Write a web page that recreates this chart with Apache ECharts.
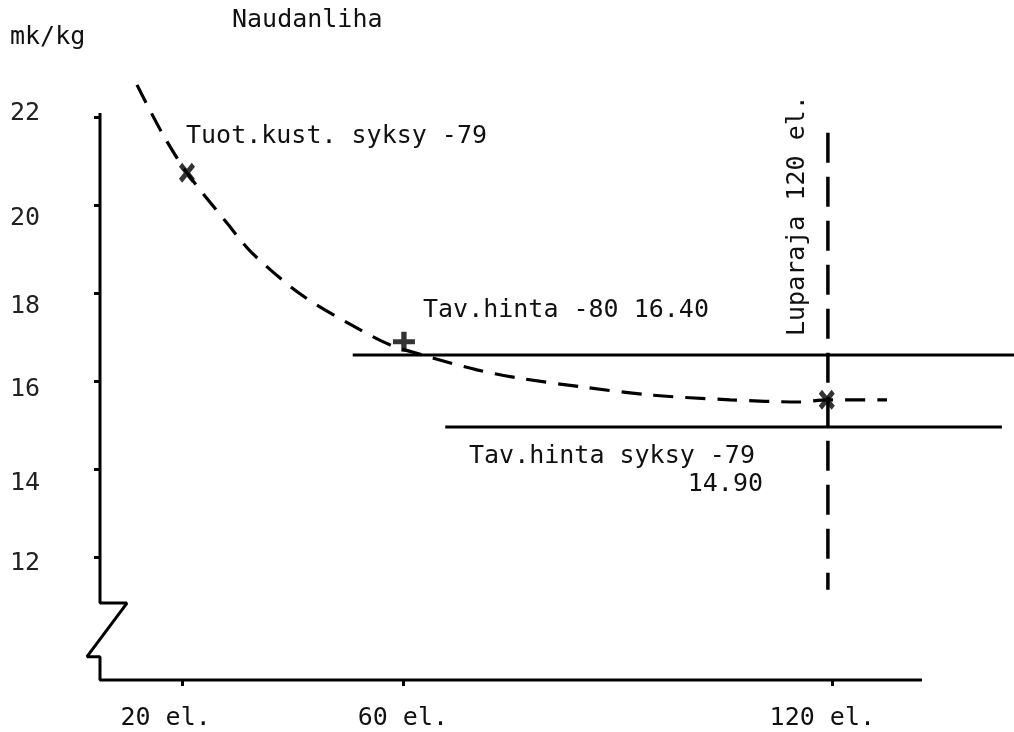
<!DOCTYPE html>
<html>
<head>
<meta charset="utf-8">
<script src="https://cdn.jsdelivr.net/npm/echarts@6/dist/echarts.min.js"></script>
<style>
  html, body { margin: 0; padding: 0; background: #fff; }
  #chart { width: 1014px; height: 732px; }
</style>
</head>
<body>
<div id="chart"></div>
<script>
// kuvan lukuarvot
var xTicks = [20, 60, 138];                 // paikat vaaka-akselilla
var xTickLabels = ['20 el.', '60 el.', '120 el.'];
var yTicks = [12, 14, 16, 18, 20, 22];

// tuotantokustannuskäyrä (x, mk/kg)
var costX = [11.72, 16.26, 20.8, 28.06, 32.6, 41.32, 50.4, 57.66, 64.93, 73.46, 80.73, 92.72, 104.88, 119.42, 132.14, 137.04, 147.94];
var costY = [22.73, 21.64, 20.73, 19.59, 18.91, 17.98, 17.29, 16.82, 16.54, 16.25, 16.07, 15.86, 15.68, 15.57, 15.52, 15.57, 15.57];

// merkit käyrällä
var crossX = [20.8, 137.0];
var crossY = [20.73, 15.57];
var plusX = [60.2];
var plusY = [16.89];

// hintatasot
var price80 = 16.59;    var price80X = [50.9, 171];
var price79 = 14.95;    var price79X = [67.7, 168.8];

// luparaja 120 el.
var limitX = 137.2;     var limitY = [21.64, 11.25];

// akselit katkoineen
var axisX = [5, 5, 9.9, 2.64, 5, 5, 154.3];
var axisY = [22.09, 10.95, 10.95, 9.73, 9.73, 9.2, 9.2];

function pairs(xs, ys) {
	var out = [];
	for (var i = 0; i < xs.length; i++) out.push([xs[i], ys[i]]);
	return out;
}

var FONT = '"DejaVu Sans Mono", monospace';
var myChart = echarts.init(document.getElementById('chart'));

// y-lukujen pieni pystysiirto kuten alkuperäisessä
var yLabelStyle = function (padTop, padBottom) {
	return { fontFamily: FONT, fontSize: 25, color: '#222', padding: [padTop, 0, padBottom, 0] };
};

var option = {
	animation: false,
	backgroundColor: '#fff',
	grid: { left: 80, right: 0, top: 73, bottom: 52 },
	xAxis: {
		type: 'value',
		min: 1.368,
		max: 171,
		axisLine: { show: false },
		splitLine: { show: false },
		axisTick: {
			show: true,
			customValues: xTicks,
			length: 6,
			lineStyle: { color: '#000', width: 3 }
		},
		axisLabel: {
			customValues: xTicks,
			margin: 26,
			formatter: function (v) {
				var i = xTicks.indexOf(v);
				var s = i >= 0 ? xTickLabels[i] : '';
				if (i === 0) return '{a|' + s + '}';
				if (i === 2) return '{c|' + s + '}';
				return s;
			},
			color: '#111',
			fontFamily: FONT,
			fontSize: 25,
			rich: {
				a: { fontFamily: FONT, fontSize: 25, color: '#111', padding: [0, 34, 0, 0] },
				c: { fontFamily: FONT, fontSize: 25, color: '#111', padding: [0, 20, 0, 0] }
			}
		}
	},
	yAxis: {
		type: 'value',
		min: 9.2,
		max: 23,
		offset: -20,
		axisLine: { show: false },
		splitLine: { show: false },
		axisTick: {
			show: true,
			customValues: yTicks,
			length: 6,
			lineStyle: { color: '#000', width: 3 }
		},
		axisLabel: {
			customValues: yTicks,
			margin: 60,
			color: '#222',
			fontFamily: FONT,
			fontSize: 25,
			formatter: function (v) {
				return '{y' + v + '|' + v + '}';
			},
			rich: {
				y22: yLabelStyle(0, 6),
				y20: yLabelStyle(28, 0),
				y18: yLabelStyle(28, 0),
				y16: yLabelStyle(18, 0),
				y14: yLabelStyle(30, 0),
				y12: yLabelStyle(14, 0)
			}
		}
	},
	series: [
		{
			// akselit
			type: 'line',
			data: pairs(axisX, axisY),
			symbol: 'none',
			clip: false,
			lineStyle: { color: '#000', width: 3 },
			z: 3
		},
		{
			name: 'Tuot.kust.',
			type: 'line',
			data: pairs(costX, costY),
			smooth: 0.3,
			symbol: 'none',
			clip: false,
			lineStyle: { color: '#000', width: 3.2, type: [20, 12] }
		},
		{
			name: 'Tav.hinta -80',
			type: 'line',
			data: [[price80X[0], price80], [price80X[1], price80]],
			symbol: 'none',
			lineStyle: { color: '#000', width: 3 }
		},
		{
			name: 'Tav.hinta syksy -79',
			type: 'line',
			data: [[price79X[0], price79], [price79X[1], price79]],
			symbol: 'none',
			lineStyle: { color: '#000', width: 3 }
		},
		{
			name: 'Luparaja',
			type: 'line',
			data: [[limitX, limitY[0]], [limitX, limitY[1]]],
			symbol: 'none',
			lineStyle: { color: '#000', width: 3.5, type: [30, 14] }
		},
		{
			type: 'scatter',
			data: pairs(crossX, crossY),
			symbol: 'path://M0,2 L2,0 L10,8 L8,10 Z M8,0 L10,2 L2,10 L0,8 Z',
			symbolSize: [16, 20],
			itemStyle: { color: '#000' },
			z: 4
		},
		{
			type: 'scatter',
			data: pairs(plusX, plusY),
			symbol: 'path://M3.8,0 H6.2 V10 H3.8 Z M0,3.8 H10 V6.2 H0 Z',
			symbolSize: [22, 20],
			itemStyle: { color: '#000' },
			z: 4
		}
	],
	graphic: [
		{ type: 'text', x: 10, y: 37, style: { text: 'mk/kg', font: '25px ' + FONT, fill: '#111', textVerticalAlign: 'middle' } },
		{ type: 'text', x: 232, y: 20, style: { text: 'Naudanliha', font: '25px ' + FONT, fill: '#111', textVerticalAlign: 'middle' } },
		{ type: 'text', x: 186, y: 136, style: { text: 'Tuot.kust. syksy -79', font: '25px ' + FONT, fill: '#111', textVerticalAlign: 'middle' } },
		{ type: 'text', x: 423, y: 310, style: { text: 'Tav.hinta -80 16.40', font: '25px ' + FONT, fill: '#111', textVerticalAlign: 'middle' } },
		{ type: 'text', x: 469, y: 456, style: { text: 'Tav.hinta syksy -79', font: '25px ' + FONT, fill: '#111', textVerticalAlign: 'middle' } },
		{ type: 'text', x: 763, y: 484, style: { text: '14.90', font: '25px ' + FONT, fill: '#111', textAlign: 'right', textVerticalAlign: 'middle' } },
		{ type: 'text', x: 797, y: 336, rotation: Math.PI / 2, style: { text: 'Luparaja 120 el.', font: '25px ' + FONT, fill: '#111', textVerticalAlign: 'middle' } }
	]
};

myChart.setOption(option);
</script>
</body>
</html>
